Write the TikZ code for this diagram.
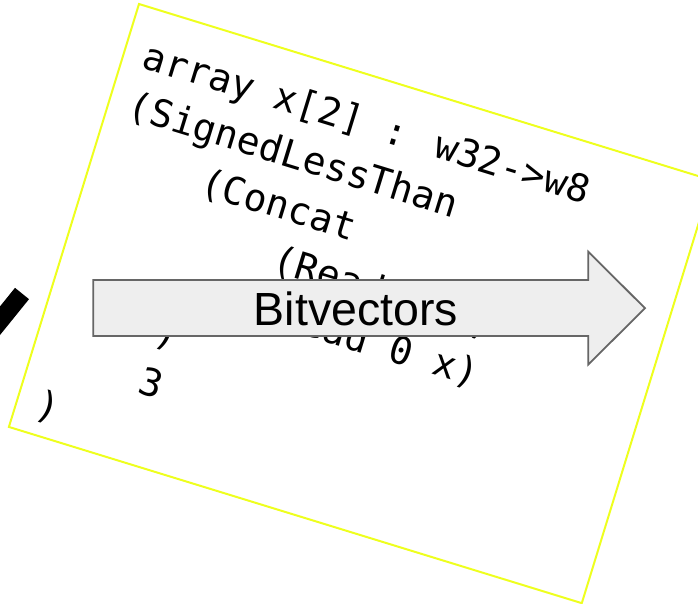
\documentclass[tikz,border=0pt]{standalone}
\usepackage{fontspec}
\newfontfamily\codefont{DejaVu Sans Mono}
\newfontfamily\labelfont{Liberation Sans}
\definecolor{boxyellow}{RGB}{238,255,30}
\definecolor{arrowfill}{RGB}{238,238,238}
\definecolor{arrowline}{RGB}{102,102,102}
\tikzset{codeline/.style={anchor=base west,inner sep=0pt,font=\codefont\fontsize{38}{52}\selectfont}}
\begin{document}
\begin{tikzpicture}[line join=miter,x=1pt,y=-1pt]
\useasboundingbox (0,0) rectangle (698,604);
\clip (0,0) rectangle (698,604);
\begin{scope}[shift={(139,4)},rotate=-17.1,transform shape]
\draw[boxyellow,line width=2pt] (0,0) rectangle (599.4,442.5);
\node[codeline] (decl) at (20,60) {array x[2] : w32->w8};
\node[codeline] (slt) at (20,112) {(SignedLessThan};
\node[codeline] (concat) at (112,164) {(Concat};
\node[codeline] (readone) at (204,216) {(Read 1 x)};
\node[codeline] (readzero) at (204,268) {(Read 0 x)};
\node[codeline] (closeconcat) at (112,320) {)};
\node[codeline] (three) at (112,372) {3};
\node[codeline] (closeslt) at (20,424) {)};
\end{scope}
\draw[line width=18pt] (22,293.5) -- ++(-38,47);
\draw[arrowline,fill=arrowfill,line width=1.8pt] (93.3,280) -- (588.3,280) -- (588.3,251.7) -- (645,308.2) -- (588.3,364.5) -- (588.3,336) -- (93.3,336) -- cycle;
\node[font=\labelfont\fontsize{46.5}{50}\selectfont,anchor=base,inner sep=0pt] (bv) at (356,325) {Bitvectors};
\end{tikzpicture}
\end{document}
